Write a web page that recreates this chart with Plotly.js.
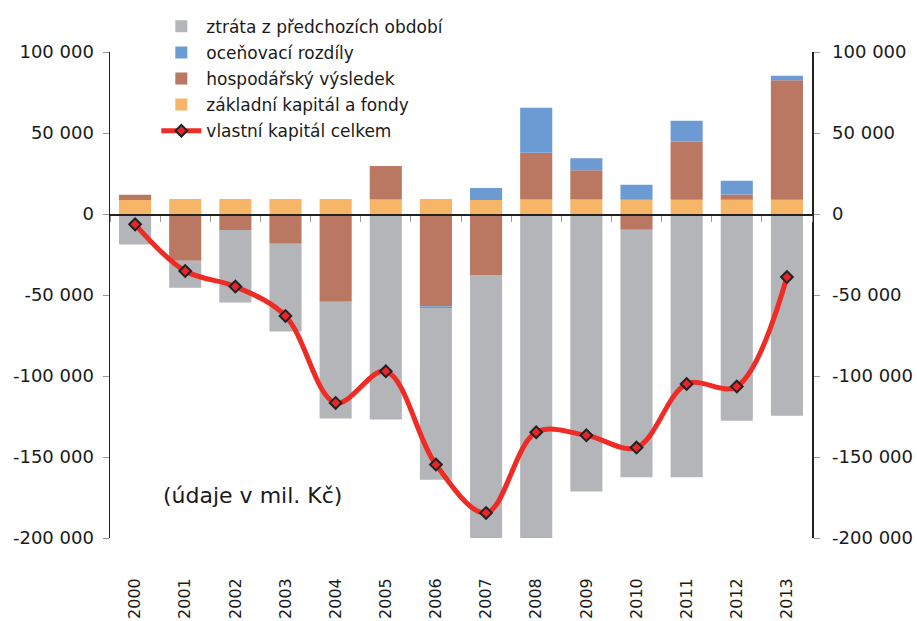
<!DOCTYPE html>
<html>
<head>
<meta charset="utf-8">
<script src="https://cdn.plot.ly/plotly-3.0.1.min.js"></script>
<style>html,body{margin:0;padding:0;background:#fff;}#chart{width:917px;height:621px;}</style>
</head>
<body>
<div id="chart"></div>
<script>
// ---- data (mil. Kč) ----
const years = ["2000","2001","2002","2003","2004","2005","2006","2007","2008","2009","2010","2011","2012","2013"];
const zakladniKapital = [8600, 9300, 9300, 9300, 9300, 9000, 9300, 8600, 9000, 9000, 8800, 8800, 8800, 8800];
const hospodarskyVysledek = [3300, -28800, -9900, -18300, -54100, 20600, -57000, -37600, 28800, 18000, -9700, 35800, 3300, 73700];
const ocenovaciRozdily = [0, 0, 0, 0, 0, 0, -1000, 7400, 27800, 7400, 9300, 13000, 8500, 2800];
const ztrataPredchozich = [-18900, -16700, -44800, -54300, -72200, -126900, -106000, -163000, -200000, -171300, -152800, -162500, -127700, -124600];
const vlastniKapital = [-6400, -35200, -44800, -62900, -116600, -97100, -154700, -184500, -134700, -136600, -144200, -104900, -106500, -38900];
const yTickVals = [-200000, -150000, -100000, -50000, 0, 50000, 100000];
const yTickText = ["-200 000", "-150 000", "-100 000", "-50 000", "0", "50 000", "100 000"];
const names = ["ztráta z předchozích období", "oceňovací rozdíly", "hospodářský výsledek", "základní kapitál a fondy", "vlastní kapitál celkem"];

const font = "DejaVu Sans, Verdana, sans-serif";
const barW = 0.64;

const traces = [
  {type:"bar", x:years, y:zakladniKapital, name:names[3], legendrank:4, legendgroup:"g4",
   marker:{color:"#f7b568"}, width:barW, xaxis:"x", yaxis:"y"},
  {type:"bar", x:years, y:hospodarskyVysledek, name:names[2], legendrank:3, legendgroup:"g3",
   marker:{color:"#ba7762"}, width:barW, xaxis:"x", yaxis:"y"},
  {type:"bar", x:years, y:ocenovaciRozdily, name:names[1], legendrank:2, legendgroup:"g2",
   marker:{color:"#6c9bd4"}, width:barW, xaxis:"x", yaxis:"y"},
  {type:"bar", x:years, y:ztrataPredchozich, name:names[0], legendrank:1, legendgroup:"g1",
   marker:{color:"#b4b5b9"}, width:barW, xaxis:"x", yaxis:"y"},
  {type:"scatter", mode:"lines+markers", x:years, y:vlastniKapital, name:names[4], legendrank:5, legendgroup:"g5",
   line:{color:"#ee2b25", width:5, shape:"spline", smoothing:1},
   marker:{symbol:"diamond", size:9, color:"#e8262a", line:{color:"#222", width:2}},
   xaxis:"x2", yaxis:"y2"}
];

const yRange = [-200000, 100000];
const layout = {
  width:917, height:621,
  margin:{l:110, r:105, t:52, b:83, autoexpand:false},
  paper_bgcolor:"#fff", plot_bgcolor:"rgba(0,0,0,0)",
  barmode:"relative",
  showlegend:true,
  font:{family:font, size:16, color:"#1a1a1a"},
  legend:{x:0.066, y:1.089, xanchor:"left", yanchor:"top", bgcolor:"rgba(0,0,0,0)", traceorder:"grouped",
          font:{family:font, size:17, color:"#1a1a1a"}, itemwidth:40, tracegroupgap:1},
  xaxis:{type:"category", categoryarray:years, range:[-0.5, 13.5], showline:false, showgrid:false,
         ticks:"", tickangle:-90, ticklabelstandoff:36, tickfont:{family:font, size:16, color:"#1a1a1a"},
         zeroline:false},
  xaxis2:{type:"category", categoryarray:years, range:[-0.5, 13.5], overlaying:"x", anchor:"free",
          position:2/3, showline:true, linecolor:"#222", linewidth:1.5, showgrid:false,
          ticks:"outside", tickson:"boundaries", ticklen:6, tickcolor:"#999", showticklabels:false, zeroline:false},
  yaxis:{range:yRange, tickmode:"array", tickvals:yTickVals, ticktext:yTickText, showgrid:false, zeroline:false,
         showline:true, linecolor:"#222", linewidth:1.5, ticks:"outside", ticklen:6, tickcolor:"#999",
         ticklabelstandoff:5, tickfont:{family:font, size:18, color:"#1a1a1a"}},
  yaxis2:{range:yRange, tickmode:"array", tickvals:yTickVals, ticktext:yTickText, showgrid:false, zeroline:false,
          overlaying:"y", side:"right", anchor:"x2",
          showline:true, linecolor:"#222", linewidth:1.5, ticks:"outside", ticklen:6, tickcolor:"#999",
          ticklabelstandoff:9, tickfont:{family:font, size:18, color:"#1a1a1a"}},
  annotations:[{text:"(údaje v mil. Kč)", xref:"paper", yref:"paper", x:(252-110)/700, y:(538-495)/486,
                xanchor:"center", yanchor:"middle",
                showarrow:false, font:{family:font, size:22, color:"#1a1a1a"}}]
};

Plotly.newPlot("chart", traces, layout, {displayModeBar:false, staticPlot:true});
</script>
</body>
</html>
